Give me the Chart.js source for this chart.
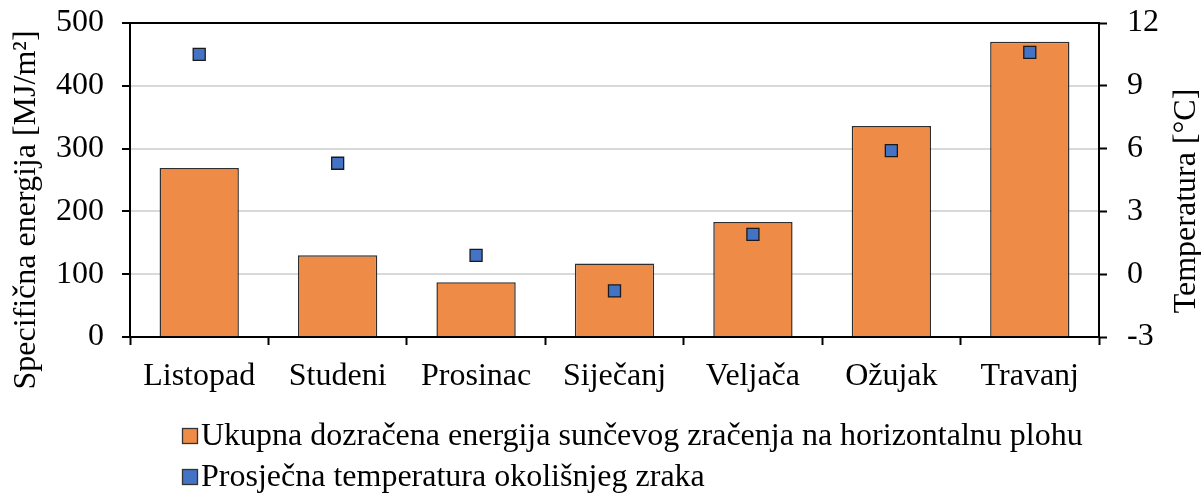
<!DOCTYPE html>
<html>
<head>
<meta charset="utf-8">
<script src="https://cdn.jsdelivr.net/npm/chart.js@4"></script>
<style>
  html, body { margin: 0; padding: 0; background: #fff; }
  #chart { display: block; }
</style>
</head>
<body>
<canvas id="chart" width="1201" height="494"></canvas>
<script>
// mjeseci i izmjerene vrijednosti
var mjeseci = ["Listopad", "Studeni", "Prosinac", "Siječanj", "Veljača", "Ožujak", "Travanj"];
var energija = [269, 130, 87, 117, 183, 336, 470];      // MJ/m2
var temperatura = [10.5, 5.3, 0.9, -0.8, 1.9, 5.9, 10.6]; // °C

var energijaTicks = [0, 500, 100];   // min, max, korak
var temperaturaTicks = [-3, 12, 3];

var nazivEnergija = "Ukupna dozračena energija sunčevog zračenja na horizontalnu plohu";
var nazivTemperatura = "Prosječna temperatura okolišnjeg zraka";
var naslovLijevo = "Specifična energija [MJ/m²]";
var naslovDesno = "Temperatura [°C]";

var FONT = "'Liberation Serif', 'Times New Roman', serif";
var SIZE = 32;

// naslovi osi i legenda crtaju se rucno (pozicije kao u Excelu)
var dodatniTekst = {
  id: "dodatniTekst",
  afterDraw: function(chart) {
    var ctx = chart.ctx;
    ctx.save();
    ctx.fillStyle = "#000";
    ctx.font = SIZE + "px " + FONT;
    ctx.textAlign = "center";
    ctx.textBaseline = "middle";

    ctx.save();
    ctx.translate(27, 210);
    ctx.rotate(-Math.PI / 2);
    ctx.fillText(naslovLijevo, 0, 0);
    ctx.restore();

    ctx.save();
    ctx.translate(1187, 201);
    ctx.rotate(-Math.PI / 2);
    ctx.fillText(naslovDesno, 0, 0);
    ctx.restore();

    // legenda
    var redovi = [chart.data.datasets[1], chart.data.datasets[0]];
    var yRed = [436, 477];
    ctx.textAlign = "left";
    redovi.forEach(function(ds, i) {
      var y = yRed[i];
      ctx.fillStyle = ds.backgroundColor;
      ctx.fillRect(182.5, y - 7.5, 15, 15);
      ctx.strokeStyle = "#333";
      ctx.lineWidth = 1.3;
      ctx.strokeRect(182.5, y - 7.5, 15, 15);
      ctx.fillStyle = "#000";
      ctx.fillText(ds.label, 201, y + 1);
    });
    ctx.restore();
  }
};

// bez dodatnog razmaka za oznake na vrhu i dnu osi
function bezRazmaka(s) {
  s.paddingTop = 0;
  s.paddingBottom = 0;
}

new Chart("chart", {
  data: {
    labels: mjeseci,
    datasets: [{
      type: "line",
      label: nazivTemperatura,
      data: temperatura,
      yAxisID: "y1",
      showLine: false,
      pointStyle: "rect",
      pointRadius: 8.5,
      pointHoverRadius: 8.5,
      backgroundColor: "#4472C4",
      borderColor: "#1a1a1a",
      borderWidth: 1.3,
      order: 0
    }, {
      type: "bar",
      label: nazivEnergija,
      data: energija,
      yAxisID: "y",
      backgroundColor: "#EE8B47",
      borderColor: "#2e2e2e",
      borderWidth: 1.5,
      categoryPercentage: 1,
      barPercentage: 0.573,
      order: 1
    }]
  },
  options: {
    responsive: false,
    animation: false,
    layout: { padding: { top: 23, left: 0, right: 0, bottom: 0 } },
    plugins: {
      legend: { display: false },
      tooltip: { enabled: false }
    },
    scales: {
      x: {
        afterFit: function(s) { s.height = 157; },
        border: { color: "#000", width: 2 },
        grid: { offset: true, drawOnChartArea: false, tickLength: 8, tickColor: "#000", tickWidth: 2 },
        ticks: { color: "#000", font: { family: FONT, size: SIZE }, padding: 12, maxRotation: 0 }
      },
      y: {
        position: "left",
        min: energijaTicks[0],
        max: energijaTicks[1],
        afterFit: function(s) { s.width = 130; bezRazmaka(s); },
        border: { color: "#000", width: 2 },
        grid: {
          color: function(c) { return c.tick && c.tick.value === energijaTicks[1] ? "#000" : "#d9d9d9"; },
          lineWidth: 2,
          tickLength: 8,
          tickColor: "#000",
          tickWidth: 2
        },
        ticks: { stepSize: energijaTicks[2], color: "#000", font: { family: FONT, size: SIZE }, padding: 18 }
      },
      y1: {
        position: "right",
        min: temperaturaTicks[0],
        max: temperaturaTicks[1],
        afterFit: function(s) { s.width = 102; bezRazmaka(s); },
        border: { color: "#000", width: 2 },
        grid: { drawOnChartArea: false, tickLength: 8, tickColor: "#000", tickWidth: 2 },
        ticks: { stepSize: temperaturaTicks[2], color: "#000", font: { family: FONT, size: SIZE }, padding: 20 }
      }
    }
  },
  plugins: [dodatniTekst]
});
</script>
</body>
</html>
